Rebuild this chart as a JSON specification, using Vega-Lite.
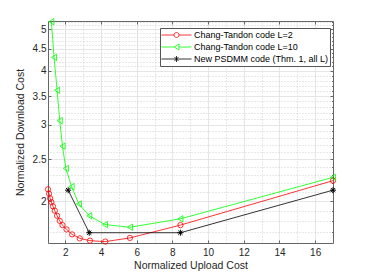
{
  "$schema": "https://vega.github.io/schema/vega-lite/v6.json",
  "width": 285,
  "height": 222,
  "autosize": "none",
  "padding": {"left": 48, "top": 21, "right": 34, "bottom": 32},
  "background": "white",
  "config": {
    "font": "Liberation Sans",
    "view": {"stroke": null},
    "axis": {
      "labelFont": "Liberation Sans",
      "titleFont": "Liberation Sans",
      "labelFontSize": 10,
      "titleFontSize": 10.5,
      "titleFontWeight": "normal",
      "labelColor": "#262626",
      "titleColor": "#262626",
      "domainColor": "#666666",
      "tickColor": "#666666",
      "gridColor": "#e0e0e0",
      "gridWidth": 0.8
    },
    "legend": {
      "orient": "none",
      "legendX": 112,
      "legendY": 7,
      "strokeColor": "#555555",
      "fillColor": "white",
      "padding": 1,
      "symbolSize": 900,
      "symbolStrokeWidth": 0.8,
      "symbolFillColor": "transparent",
      "labelFontSize": 9,
      "labelFont": "Liberation Sans",
      "labelColor": "#000000",
      "labelOffset": 2,
      "clipHeight": 12,
      "rowPadding": 0
    }
  },
  "data": {
    "values": [
      {"series": "Chang-Tandon code L=2", "x": 1.03, "y": 2.13},
      {"series": "Chang-Tandon code L=2", "x": 1.09, "y": 2.08},
      {"series": "Chang-Tandon code L=2", "x": 1.15, "y": 2.03},
      {"series": "Chang-Tandon code L=2", "x": 1.22, "y": 1.99},
      {"series": "Chang-Tandon code L=2", "x": 1.31, "y": 1.945},
      {"series": "Chang-Tandon code L=2", "x": 1.41, "y": 1.9},
      {"series": "Chang-Tandon code L=2", "x": 1.54, "y": 1.85},
      {"series": "Chang-Tandon code L=2", "x": 1.69, "y": 1.8},
      {"series": "Chang-Tandon code L=2", "x": 1.84, "y": 1.76},
      {"series": "Chang-Tandon code L=2", "x": 2.07, "y": 1.72},
      {"series": "Chang-Tandon code L=2", "x": 2.38, "y": 1.675},
      {"series": "Chang-Tandon code L=2", "x": 2.81, "y": 1.64},
      {"series": "Chang-Tandon code L=2", "x": 3.38, "y": 1.62},
      {"series": "Chang-Tandon code L=2", "x": 4.24, "y": 1.612},
      {"series": "Chang-Tandon code L=2", "x": 5.62, "y": 1.644},
      {"series": "Chang-Tandon code L=2", "x": 8.45, "y": 1.76},
      {"series": "Chang-Tandon code L=2", "x": 17, "y": 2.23},
      {"series": "Chang-Tandon code L=10", "x": 1.22, "y": 5.2},
      {"series": "Chang-Tandon code L=10", "x": 1.37, "y": 4.3},
      {"series": "Chang-Tandon code L=10", "x": 1.54, "y": 3.61},
      {"series": "Chang-Tandon code L=10", "x": 1.69, "y": 3.07},
      {"series": "Chang-Tandon code L=10", "x": 1.84, "y": 2.68},
      {"series": "Chang-Tandon code L=10", "x": 2.03, "y": 2.38},
      {"series": "Chang-Tandon code L=10", "x": 2.35, "y": 2.16},
      {"series": "Chang-Tandon code L=10", "x": 2.76, "y": 1.97},
      {"series": "Chang-Tandon code L=10", "x": 3.34, "y": 1.85},
      {"series": "Chang-Tandon code L=10", "x": 4.22, "y": 1.765},
      {"series": "Chang-Tandon code L=10", "x": 5.62, "y": 1.74},
      {"series": "Chang-Tandon code L=10", "x": 8.45, "y": 1.82},
      {"series": "Chang-Tandon code L=10", "x": 17, "y": 2.27},
      {"series": "New PSDMM code (Thm. 1, all L)", "x": 2.16, "y": 2.12},
      {"series": "New PSDMM code (Thm. 1, all L)", "x": 3.34, "y": 1.69},
      {"series": "New PSDMM code (Thm. 1, all L)", "x": 8.45, "y": 1.69},
      {"series": "New PSDMM code (Thm. 1, all L)", "x": 17, "y": 2.12}
    ]
  },
  "layer": [
    {
      "mark": {"type": "line", "strokeWidth": 0.8, "clip": false},
      "encoding": {
        "x": {"field": "x", "type": "quantitative",
          "scale": {"domain": [1.03, 17], "nice": false, "zero": false},
          "axis": {"orient": "top", "values": [1, 3, 5, 7, 9, 11, 13, 15, 17], "grid": true, "gridDash": [1, 2], "gridColor": "#c4c4c4", "labels": false, "ticks": false, "title": null, "domain": true}},
        "y": {"field": "y", "type": "quantitative",
          "scale": {"type": "log", "domain": [1.6, 5.22], "nice": false},
          "axis": {"orient": "right", "values": [1.7, 1.8, 1.9, 2.1, 2.2, 2.3, 2.4, 2.6, 2.7, 2.8, 2.9, 3.1, 3.2, 3.3, 3.4, 3.6, 3.7, 3.8, 3.9, 4.1, 4.2, 4.3, 4.4, 4.6, 4.7, 4.8, 4.9, 5.1, 5.2], "grid": true, "gridDash": [1, 2], "gridColor": "#c4c4c4", "labels": false, "ticks": true, "tickSize": -1.5, "title": null, "domain": true}},
        "color": {"field": "series", "type": "nominal",
          "scale": {"domain": ["Chang-Tandon code L=2", "Chang-Tandon code L=10", "New PSDMM code (Thm. 1, all L)"], "range": ["#ff0000", "#00ff00", "#000000"]},
          "title": null}
      }
    },
    {
      "transform": [{"filter": "datum.series === 'Chang-Tandon code L=2'"}],
      "mark": {"type": "point", "shape": "circle", "size": 28, "filled": false, "strokeWidth": 0.8, "opacity": 1, "clip": false},
      "encoding": {
        "x": {"field": "x", "type": "quantitative",
          "scale": {"domain": [1.03, 17], "nice": false, "zero": false},
          "axis": {"orient": "bottom", "values": [2, 4, 6, 8, 10, 12, 14, 16], "grid": true, "tickSize": -3, "labelPadding": 7, "title": "Normalized Upload Cost", "titlePadding": 3}},
        "y": {"field": "y", "type": "quantitative",
          "scale": {"type": "log", "domain": [1.6, 5.22], "nice": false},
          "axis": {"orient": "left", "values": [2, 2.5, 3, 3.5, 4, 4.5, 5], "format": "~g", "grid": true, "tickSize": -3, "labelPadding": 5, "title": "Normalized Download Cost", "titlePadding": 7}},
        "color": {"field": "series", "type": "nominal",
          "scale": {"domain": ["Chang-Tandon code L=2", "Chang-Tandon code L=10", "New PSDMM code (Thm. 1, all L)"], "range": ["#ff0000", "#00ff00", "#000000"]},
          "title": null}
      }
    },
    {
      "transform": [{"filter": "datum.series === 'Chang-Tandon code L=10'"}],
      "mark": {"type": "point", "shape": "M-0.8,0L0.8,-1L0.8,1Z", "size": 40, "filled": false, "strokeWidth": 0.8, "opacity": 1, "clip": false},
      "encoding": {
        "x": {"field": "x", "type": "quantitative",
          "scale": {"domain": [1.03, 17], "nice": false, "zero": false},
          "axis": {"orient": "top", "values": [2, 4, 6, 8, 10, 12, 14, 16], "grid": false, "labels": false, "tickSize": -3, "domain": false, "title": null}},
        "y": {"field": "y", "type": "quantitative",
          "scale": {"type": "log", "domain": [1.6, 5.22], "nice": false},
          "axis": {"orient": "right", "values": [2, 2.5, 3, 3.5, 4, 4.5, 5], "grid": false, "labels": false, "tickSize": -3, "domain": false, "title": null}},
        "color": {"field": "series", "type": "nominal",
          "scale": {"domain": ["Chang-Tandon code L=2", "Chang-Tandon code L=10", "New PSDMM code (Thm. 1, all L)"], "range": ["#ff0000", "#00ff00", "#000000"]},
          "title": null}
      }
    },
    {
      "transform": [{"filter": "datum.series === 'New PSDMM code (Thm. 1, all L)'"}],
      "mark": {"type": "point", "shape": "M-1,0H1M0,-1V1M-0.7,-0.7L0.7,0.7M-0.7,0.7L0.7,-0.7", "size": 36, "filled": false, "strokeWidth": 1, "opacity": 1, "clip": false},
      "encoding": {
        "x": {"field": "x", "type": "quantitative", "scale": {"domain": [1.03, 17], "nice": false, "zero": false}, "axis": null},
        "y": {"field": "y", "type": "quantitative", "scale": {"type": "log", "domain": [1.6, 5.22], "nice": false}, "axis": null},
        "color": {"field": "series", "type": "nominal",
          "scale": {"domain": ["Chang-Tandon code L=2", "Chang-Tandon code L=10", "New PSDMM code (Thm. 1, all L)"], "range": ["#ff0000", "#00ff00", "#000000"]},
          "title": null}
      }
    },
    {
      "transform": [{"filter": "false"}],
      "mark": {"type": "point", "filled": false, "strokeWidth": 0.8},
      "encoding": {
        "x": {"field": "x", "type": "quantitative", "scale": {"domain": [1.03, 17], "nice": false, "zero": false}, "axis": null},
        "y": {"field": "y", "type": "quantitative", "scale": {"type": "log", "domain": [1.6, 5.22], "nice": false}, "axis": null},
        "color": {"field": "series", "type": "nominal",
          "scale": {"domain": ["Chang-Tandon code L=2", "Chang-Tandon code L=10", "New PSDMM code (Thm. 1, all L)"], "range": ["#ff0000", "#00ff00", "#000000"]},
          "title": null},
        "shape": {"field": "series", "type": "nominal",
          "scale": {"domain": ["Chang-Tandon code L=2", "Chang-Tandon code L=10", "New PSDMM code (Thm. 1, all L)"],
            "range": [
              "M-1,0H-0.1667M0.1667,0H1M-0.1667,0A0.1667,0.1667 0 1,1 0.1667,0A0.1667,0.1667 0 1,1 -0.1667,0",
              "M-1,0H-0.16M0.16,0H1M-0.16,0L0.16,-0.2L0.16,0.2Z",
              "M-1,0H1M0,-0.2V0.2M-0.14,-0.14L0.14,0.14M-0.14,0.14L0.14,-0.14"
            ]},
          "title": null}
      }
    }
  ],
  "resolve": {"axis": {"x": "independent", "y": "independent"}}
}
